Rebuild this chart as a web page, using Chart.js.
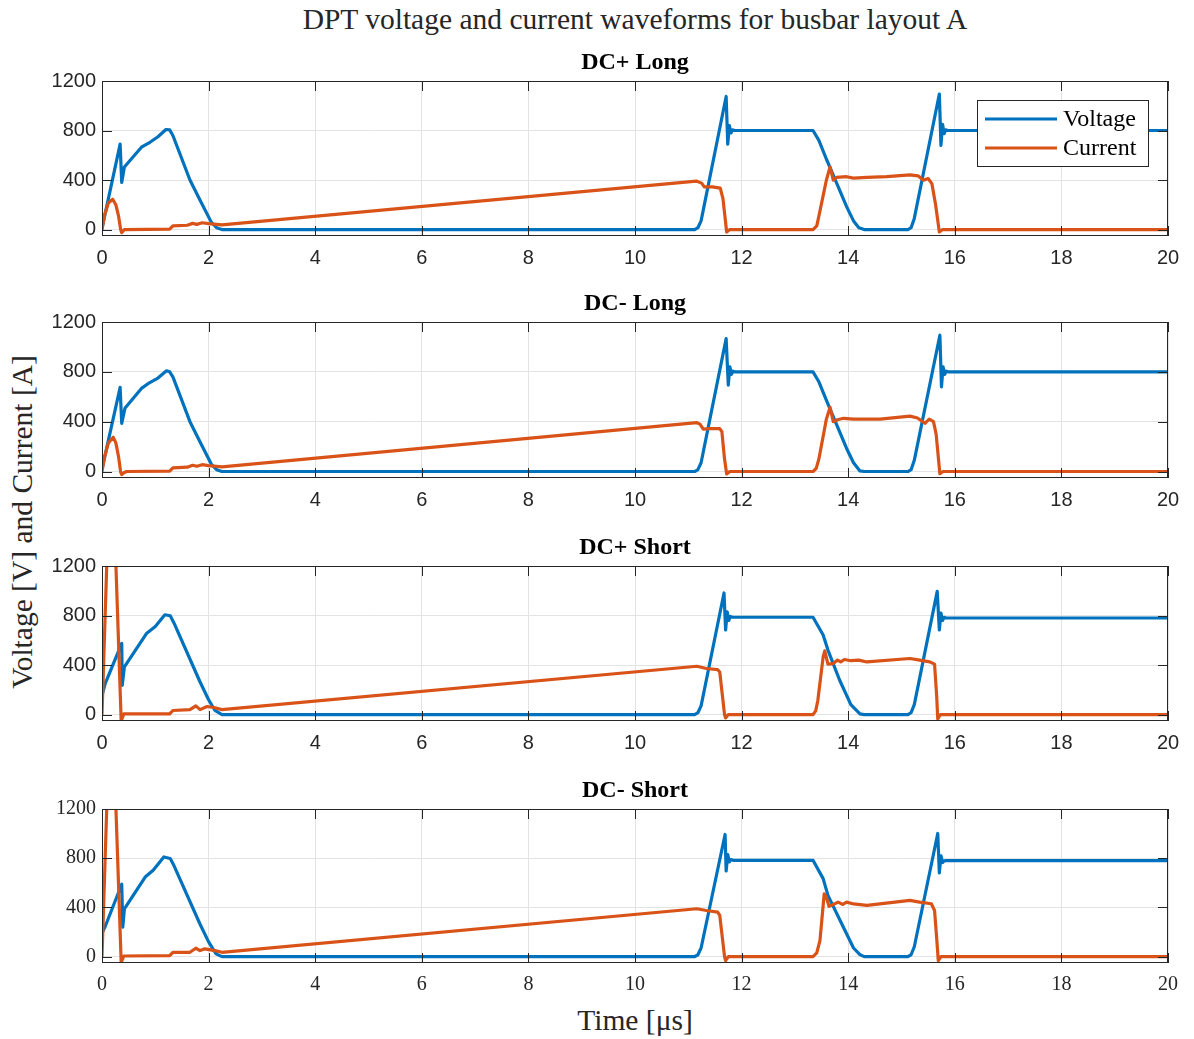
<!DOCTYPE html>
<html>
<head>
<meta charset="utf-8">
<title>DPT voltage and current waveforms</title>
<script src="https://cdn.jsdelivr.net/npm/chart.js@4.4.0/dist/chart.umd.min.js"></script>
<style>
  body { margin: 0; background: #fff; }
  #page { position: relative; width: 1194px; height: 1039px; overflow: hidden;
          font-family: "Liberation Serif", "Times New Roman", serif; color: #262626; }
  #mainTitle { position: absolute; left: 0; width: 1270px; top: 3px; text-align: center;
               font-size: 29.5px; line-height: 32px; }
  #yLabel { position: absolute; left: 22px; top: 522px; white-space: nowrap;
            transform: translate(-50%, -50%) rotate(-90deg); font-size: 29.5px; line-height: 32px; }
  #xLabel { position: absolute; left: 0; width: 1270px; top: 1004px; text-align: center;
            font-size: 29.5px; line-height: 32px; }
  canvas { position: absolute; left: 0; }
</style>
</head>
<body>
<div id="page">
  <div id="mainTitle">DPT voltage and current waveforms for busbar layout A</div>
  <div id="yLabel">Voltage [V] and Current [A]</div>
  <div id="xLabel">Time [μs]</div>
</div>
<script>
/* ---- dati ---- */
const panelTitles = ['DC+ Long', 'DC- Long', 'DC+ Short', 'DC- Short'];
const seriesNames = ['Voltage', 'Current'];
const xTicks = [0, 2, 4, 6, 8, 10, 12, 14, 16, 18, 20];
const yTicks = [0, 400, 800, 1200];

// DC+ Long
const tV1 = [0, 0.34, 0.37, 0.42, 0.74, 0.9, 1.05, 1.2, 1.27, 1.33, 1.65, 1.84, 2.05, 2.15, 2.25, 11.12, 11.18, 11.24, 11.71, 11.74, 11.77, 11.8, 11.83, 11.87, 13.34, 13.45, 13.59, 13.68, 13.97, 14.1, 14.2, 14.3, 15.12, 15.18, 15.24, 15.71, 15.74, 15.77, 15.8, 15.83, 15.87, 20];
const v1  = [10, 690, 380, 505, 665, 705, 750, 808, 805, 760, 400, 237, 60, 15, 0, 0, 15, 70, 1075, 690, 840, 780, 805, 800, 800, 720, 570, 480, 185, 70, 15, 0, 0, 15, 90, 1095, 680, 850, 775, 805, 800, 800];
const tI1 = [0, 0.05, 0.12, 0.2, 0.26, 0.31, 0.35, 0.37, 0.42, 1.27, 1.33, 1.6, 1.7, 1.78, 1.88, 2.0, 2.25, 11.15, 11.25, 11.3, 11.45, 11.6, 11.65, 11.72, 11.78, 13.34, 13.41, 13.46, 13.59, 13.66, 13.72, 13.78, 13.97, 14.1, 14.35, 14.72, 15.16, 15.31, 15.41, 15.5, 15.57, 15.64, 15.71, 15.77, 20];
const i1  = [0, 120, 215, 245, 200, 110, 0, -25, 0, 3, 30, 35, 50, 42, 55, 48, 38, 392, 375, 345, 345, 335, 250, -20, 0, 0, 30, 129, 398, 506, 400, 421, 427, 415, 421, 427, 442, 434, 398, 412, 371, 200, -19, 0, 0];

// DC- Long
const tV2 = [0, 0.34, 0.37, 0.43, 0.74, 0.87, 1.05, 1.21, 1.27, 1.33, 1.65, 1.84, 2.05, 2.15, 2.25, 11.12, 11.18, 11.24, 11.71, 11.75, 11.78, 11.81, 11.84, 11.88, 13.34, 13.45, 13.59, 13.68, 13.97, 14.1, 14.22, 14.3, 15.12, 15.18, 15.24, 15.72, 15.75, 15.78, 15.81, 15.84, 15.88, 20];
const v2  = [20, 675, 387, 507, 667, 707, 750, 808, 800, 760, 400, 237, 60, 15, 0, 0, 15, 70, 1067, 694, 840, 780, 805, 800, 800, 720, 573, 480, 185, 70, 5, 0, 0, 15, 90, 1094, 680, 840, 780, 805, 800, 800];
const tI2 = [0, 0.05, 0.12, 0.21, 0.26, 0.31, 0.35, 0.37, 0.41, 0.46, 1.27, 1.33, 1.6, 1.7, 1.78, 1.88, 2.0, 2.25, 11.16, 11.22, 11.28, 11.4, 11.59, 11.63, 11.68, 11.72, 11.78, 13.34, 13.4, 13.45, 13.59, 13.66, 13.72, 13.8, 13.91, 14.1, 14.6, 15.16, 15.3, 15.44, 15.52, 15.6, 15.65, 15.72, 15.78, 20];
const i2  = [0, 120, 230, 275, 230, 120, -5, -25, -10, 0, 3, 30, 35, 50, 42, 55, 48, 38, 392, 380, 340, 345, 345, 320, 100, -20, 0, 0, 25, 100, 420, 515, 400, 415, 427, 420, 420, 445, 430, 387, 420, 400, 300, -18, 0, 0];

// DC+ Short
const tV3 = [0, 0.01, 0.06, 0.37, 0.38, 0.42, 0.84, 1.0, 1.18, 1.28, 1.35, 1.84, 2.0, 2.12, 2.25, 11.12, 11.18, 11.24, 11.67, 11.7, 11.73, 11.76, 11.79, 11.83, 13.34, 13.53, 13.62, 13.84, 14.05, 14.22, 14.3, 15.12, 15.18, 15.24, 15.67, 15.71, 15.74, 15.77, 15.8, 15.84, 20];
const v3  = [540, 170, 250, 575, 236, 385, 657, 711, 806, 798, 740, 263, 120, 33, 0, 0, 15, 70, 982, 683, 830, 760, 792, 786, 786, 643, 521, 277, 80, 5, 0, 0, 15, 80, 995, 683, 820, 760, 785, 780, 780];
const tI3 = [0, 0.09, 0.13, 0.2, 0.26, 0.36, 0.41, 1.27, 1.33, 1.65, 1.76, 1.84, 1.97, 2.1, 2.25, 11.16, 11.34, 11.55, 11.59, 11.68, 11.7, 11.75, 13.34, 13.39, 13.43, 13.53, 13.56, 13.62, 13.72, 13.8, 13.86, 13.93, 14.05, 14.2, 14.35, 15.16, 15.34, 15.53, 15.62, 15.66, 15.68, 15.73, 20];
const i3  = [0, 1220, 1700, 1700, 1220, -50, 5, 5, 33, 40, 70, 40, 65, 57, 40, 390, 372, 363, 344, 0, -27, 0, 0, 30, 114, 466, 515, 407, 412, 440, 425, 445, 435, 440, 425, 453, 440, 426, 407, 150, -35, 0, 0];

// DC- Short
const tV4 = [0, 0.01, 0.06, 0.37, 0.39, 0.42, 0.81, 0.96, 1.16, 1.28, 1.35, 1.84, 2.0, 2.14, 2.25, 11.12, 11.18, 11.24, 11.69, 11.71, 11.74, 11.77, 11.8, 11.84, 13.34, 13.53, 13.62, 13.91, 14.1, 14.22, 14.3, 15.12, 15.18, 15.24, 15.68, 15.71, 15.74, 15.77, 15.8, 15.84, 20];
const v4  = [540, 200, 245, 588, 239, 389, 647, 702, 810, 797, 740, 263, 120, 22, 0, 0, 15, 70, 993, 696, 830, 770, 789, 783, 783, 634, 498, 239, 70, 16, 0, 0, 15, 80, 1001, 680, 820, 765, 778, 780, 780];
const tI4 = [0, 0.09, 0.13, 0.2, 0.26, 0.36, 0.41, 1.27, 1.33, 1.65, 1.76, 1.84, 1.93, 2.12, 2.25, 11.16, 11.34, 11.55, 11.59, 11.68, 11.7, 11.75, 13.34, 13.41, 13.47, 13.55, 13.59, 13.64, 13.72, 13.81, 13.9, 13.97, 14.1, 14.35, 15.16, 15.34, 15.56, 15.62, 15.66, 15.69, 15.74, 20];
const i4  = [0, 1220, 1700, 1700, 1220, -46, 5, 8, 35, 35, 68, 49, 63, 49, 35, 389, 375, 362, 335, 0, -33, 0, 0, 30, 130, 511, 484, 408, 424, 443, 424, 443, 428, 416, 457, 443, 430, 375, 150, -33, 0, 0];

/* ---- stile ---- */
const colVoltage = '#0072BD';
const colCurrent = '#D95319';
const axisColor = '#262626';

function toPoints(t, y) {
  return t.map((x, k) => ({ x: x, y: y[k] }));
}

// cornice e tacche verso l'interno (stile MATLAB)
const boxPlugin = {
  id: 'matlabBox',
  afterDatasetsDraw(chart) {
    const ctx = chart.ctx;
    const a = chart.chartArea;
    const sx = chart.scales.x, sy = chart.scales.y;
    ctx.save();
    ctx.strokeStyle = axisColor;
    ctx.lineWidth = 1;
    ctx.beginPath();
    xTicks.forEach(v => {
      const p = Math.round(sx.getPixelForValue(v)) + 0.5;
      ctx.moveTo(p, a.bottom); ctx.lineTo(p, a.bottom - 10);
      ctx.moveTo(p, a.top); ctx.lineTo(p, a.top + 10);
    });
    yTicks.forEach(v => {
      const p = Math.round(sy.getPixelForValue(v)) + 0.5;
      ctx.moveTo(a.left, p); ctx.lineTo(a.left + 10, p);
      ctx.moveTo(a.right, p); ctx.lineTo(a.right - 10, p);
    });
    ctx.stroke();
    ctx.strokeRect(a.left + 0.5, a.top + 0.5, a.right - a.left - 1, a.bottom - a.top - 1);
    ctx.restore();
  }
};

// legenda con riquadro dentro l'area del grafico
const boxLegend = {
  id: 'boxLegend',
  afterDraw(chart) {
    const ctx = chart.ctx;
    const a = chart.chartArea;
    const w = 171, h = 66;
    const x0 = a.right - 20 - w, y0 = a.top + 19;
    ctx.save();
    ctx.fillStyle = '#fff';
    ctx.fillRect(x0, y0, w, h);
    ctx.strokeStyle = axisColor;
    ctx.lineWidth = 1;
    ctx.strokeRect(x0 + 0.5, y0 + 0.5, w, h);
    ctx.font = '24px "Liberation Serif"';
    ctx.textBaseline = 'middle';
    chart.data.datasets.forEach((ds, k) => {
      const y = y0 + 19 + k * 29;
      ctx.strokeStyle = ds.borderColor;
      ctx.lineWidth = 3;
      ctx.beginPath();
      ctx.moveTo(x0 + 8, y);
      ctx.lineTo(x0 + 80, y);
      ctx.stroke();
      ctx.fillStyle = '#000';
      ctx.fillText(ds.label, x0 + 86, y + 1);
    });
    ctx.restore();
  }
};

function makePanel(k, tV, v, tI, cur, top, bottom, serifTicks, legend) {
  const titleH = 33, axisH = 40;
  const canvas = document.createElement('canvas');
  canvas.width = 1194;
  canvas.height = bottom - top + titleH + axisH;
  canvas.style.top = (top - titleH) + 'px';
  document.getElementById('page').appendChild(canvas);

  const tickFont = { family: serifTicks ? 'Liberation Serif' : 'Liberation Sans', size: 20 };
  const plugins = [boxPlugin];
  if (legend) plugins.push(boxLegend);

  const lineStyle = {
    borderWidth: 3.2, pointRadius: 0, tension: 0,
    borderJoinStyle: 'round', borderCapStyle: 'round', clip: 0
  };

  return new Chart(canvas.getContext('2d'), {
    type: 'line',
    data: {
      datasets: [
        Object.assign({ label: seriesNames[0], data: toPoints(tV, v), borderColor: colVoltage, order: 1 }, lineStyle),
        Object.assign({ label: seriesNames[1], data: toPoints(tI, cur), borderColor: colCurrent, order: 0 }, lineStyle)
      ]
    },
    options: {
      responsive: false,
      animation: false,
      devicePixelRatio: 1,
      layout: { padding: { left: 0, right: 26, top: 0, bottom: 0 } },
      plugins: {
        legend: { display: false },
        tooltip: { enabled: false },
        title: {
          display: true, text: panelTitles[k], color: '#000', fullSize: false,
          font: { family: 'Liberation Serif', size: 24, weight: 'bold', lineHeight: 1.25 },
          padding: { top: 0, bottom: 3 }
        }
      },
      scales: {
        x: {
          type: 'linear', min: 0, max: 20,
          afterBuildTicks: s => { s.ticks = xTicks.map(val => ({ value: val })); },
          afterFit: s => { s.height = axisH; },
          grid: { color: '#e3e3e3', drawTicks: false },
          border: { display: false },
          ticks: { color: axisColor, font: tickFont, padding: 10, maxRotation: 0, autoSkip: false,
                   callback: val => String(val) }
        },
        y: {
          type: 'linear', min: -52, max: 1200,
          afterBuildTicks: s => { s.ticks = yTicks.map(val => ({ value: val })); },
          afterFit: s => { s.width = 102; },
          grid: { color: '#e3e3e3', drawTicks: false },
          border: { display: false },
          ticks: { color: axisColor, font: tickFont, padding: 6, autoSkip: false,
                   callback: val => String(val) }
        }
      }
    },
    plugins: plugins
  });
}

makePanel(0, tV1, v1, tI1, i1, 81, 236, false, true);
makePanel(1, tV2, v2, tI2, i2, 322, 478, false, false);
makePanel(2, tV3, v3, tI3, i3, 566, 721, false, false);
makePanel(3, tV4, v4, tI4, i4, 809, 963, true, false);
</script>
</body>
</html>
